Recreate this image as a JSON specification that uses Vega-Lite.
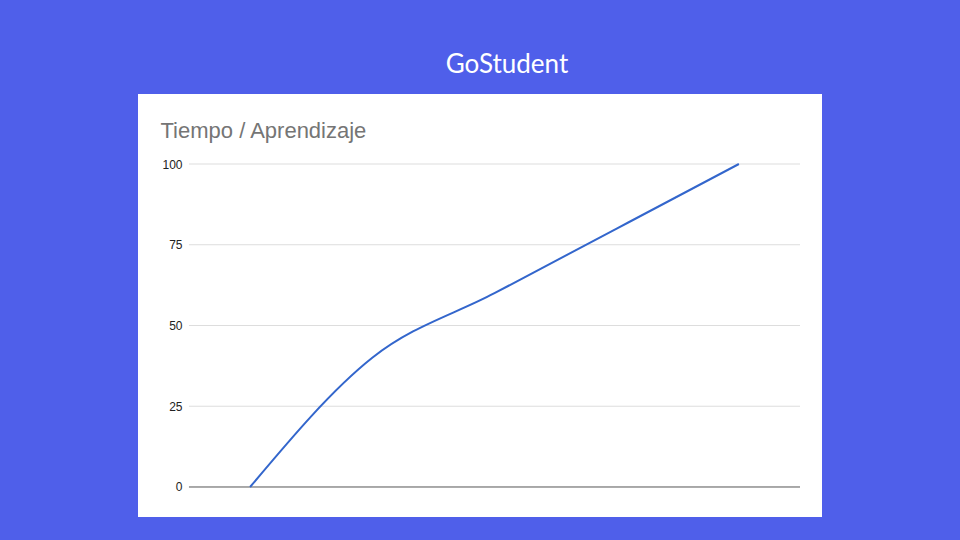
{
  "$schema": "https://vega.github.io/schema/vega-lite/v6.json",
  "width": 684,
  "height": 423,
  "autosize": {"type": "none"},
  "padding": {"left": 138, "top": 94, "right": 138, "bottom": 23},
  "background": "#4f5fea",
  "config": {"view": {"fill": "white", "stroke": null}},
  "title": {
    "text": "GoStudent",
    "anchor": "middle",
    "frame": "group",
    "color": "white",
    "font": "Lato",
    "fontSize": 26,
    "fontWeight": "normal",
    "baseline": "alphabetic",
    "offset": 21,
    "dy": 26,
    "dx": 27
  },
  "datasets": {
    "curve": [
      {"t": 1, "value": 0},
      {"t": 2, "value": 40},
      {"t": 3, "value": 60},
      {"t": 4, "value": 80},
      {"t": 5, "value": 100}
    ],
    "grid": [
      {"v": 0},
      {"v": 25},
      {"v": 50},
      {"v": 75},
      {"v": 100}
    ]
  },
  "layer": [
    {
      "data": {"name": "grid"},
      "mark": {"type": "rule", "strokeWidth": 1},
      "encoding": {
        "y": {
          "field": "v",
          "type": "quantitative",
          "scale": {"domain": [-9.288, 121.672], "nice": false, "zero": false},
          "axis": {
            "values": [0, 25, 50, 75, 100],
            "grid": false,
            "ticks": false,
            "domain": false,
            "offset": -51,
            "labelPadding": 7,
            "labelFont": "Liberation Sans",
            "labelFontSize": 12,
            "labelColor": "#222222",
            "title": "Tiempo / Aprendizaje",
            "titleAngle": 0,
            "titleAlign": "left",
            "titleBaseline": "alphabetic",
            "titleX": -29,
            "titleY": 43,
            "titleFont": "Liberation Sans",
            "titleFontSize": 22,
            "titleFontWeight": "normal",
            "titleColor": "#757575"
          }
        },
        "x": {
          "datum": 0.5,
          "type": "quantitative",
          "scale": {"domain": [0.083, 5.68], "nice": false, "zero": false},
          "axis": null
        },
        "x2": {"datum": 5.5},
        "color": {
          "condition": {"test": "datum.v === 0", "value": "#555555"},
          "value": "#dddddd"
        }
      }
    },
    {
      "data": {"name": "curve"},
      "mark": {"type": "line", "interpolate": "monotone", "color": "#3366cc", "strokeWidth": 2},
      "encoding": {
        "x": {"field": "t", "type": "quantitative"},
        "y": {"field": "value", "type": "quantitative"}
      }
    }
  ]
}
